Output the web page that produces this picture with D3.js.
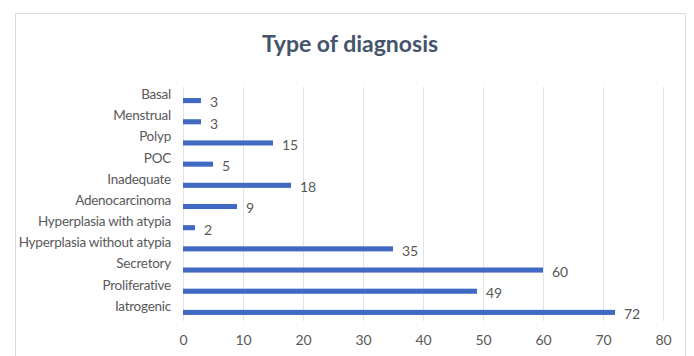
<!DOCTYPE html>
<html>
<head>
<meta charset="utf-8">
<script src="https://cdn.jsdelivr.net/npm/d3@7"></script>
<style>
  html, body { margin: 0; padding: 0; background: #fff; }
  text { font-family: Lato, "Open Sans", sans-serif; }
</style>
</head>
<body>
<div id="chart"></div>
<script>
// Type of diagnosis: horizontal bar chart
const categories = [
  "Basal", "Menstrual", "Polyp", "POC", "Inadequate", "Adenocarcinoma",
  "Hyperplasia with atypia", "Hyperplasia without atypia",
  "Secretory", "Proliferative", "Iatrogenic"
];
const values = [3, 3, 15, 5, 18, 9, 2, 35, 60, 49, 72];
const xTicks = [0, 10, 20, 30, 40, 50, 60, 70, 80];

const data = categories.map((c, i) => ({label: c, value: values[i]}));

const width = 694, height = 356;
const margin = {top: 90, right: 31, bottom: 33, left: 183};

const svg = d3.select("#chart").append("svg")
  .attr("width", width)
  .attr("height", height);

// outer frame
svg.append("rect")
  .attr("x", 15.5).attr("y", 13.5)
  .attr("width", 670).attr("height", 360)
  .attr("fill", "#fff")
  .attr("stroke", "#d9dde3");

svg.append("text")
  .attr("x", 350).attr("y", 52)
  .attr("text-anchor", "middle")
  .attr("font-size", 23)
  .attr("font-weight", "bold")
  .attr("fill", "#44546a")
  .text("Type of diagnosis");

const x = d3.scaleLinear()
  .domain([0, 80])
  .range([margin.left, width - margin.right]);

const y = d3.scaleBand()
  .domain(categories)
  .range([margin.top, height - margin.bottom])
  .paddingInner(0.76)
  .paddingOuter(0.38);

// gridlines
svg.append("g")
  .selectAll("line")
  .data(xTicks)
  .join("line")
  .attr("x1", d => Math.round(x(d)) + 0.5)
  .attr("x2", d => Math.round(x(d)) + 0.5)
  .attr("y1", margin.top - 3)
  .attr("y2", height - margin.bottom - 2)
  .attr("stroke", "#dfe3ea")
  .attr("stroke-width", 1);

const xAxis = svg.append("g")
  .attr("transform", `translate(0,${height - margin.bottom})`)
  .call(d3.axisBottom(x).tickValues(xTicks).tickSize(0).tickPadding(12));
xAxis.select(".domain").remove();
xAxis.selectAll("text")
  .attr("font-size", 14)
  .attr("fill", "#595959")
  .style("font-family", "Lato, sans-serif");

const yAxis = svg.append("g")
  .attr("transform", `translate(${margin.left - 12},0)`)
  .call(d3.axisLeft(y).tickSize(0).tickPadding(0));
yAxis.select(".domain").remove();
yAxis.selectAll("text")
  .attr("font-size", 13.5)
  .attr("letter-spacing", "-0.25px")
  .attr("fill", "#595959")
  .attr("dy", "-0.12em")
  .style("font-family", "Lato, sans-serif");

svg.append("g")
  .selectAll("rect")
  .data(data)
  .join("rect")
  .attr("x", x(0))
  .attr("y", d => y(d.label))
  .attr("width", d => x(d.value) - x(0))
  .attr("height", y.bandwidth())
  .attr("fill", "#3f69c2");

svg.append("g")
  .selectAll("text")
  .data(data)
  .join("text")
  .attr("x", d => x(d.value) + 9)
  .attr("y", d => y(d.label) + y.bandwidth() / 2 + 2)
  .attr("dy", "0.35em")
  .attr("font-size", 14)
  .attr("fill", "#595959")
  .text(d => d.value);
</script>
</body>
</html>
